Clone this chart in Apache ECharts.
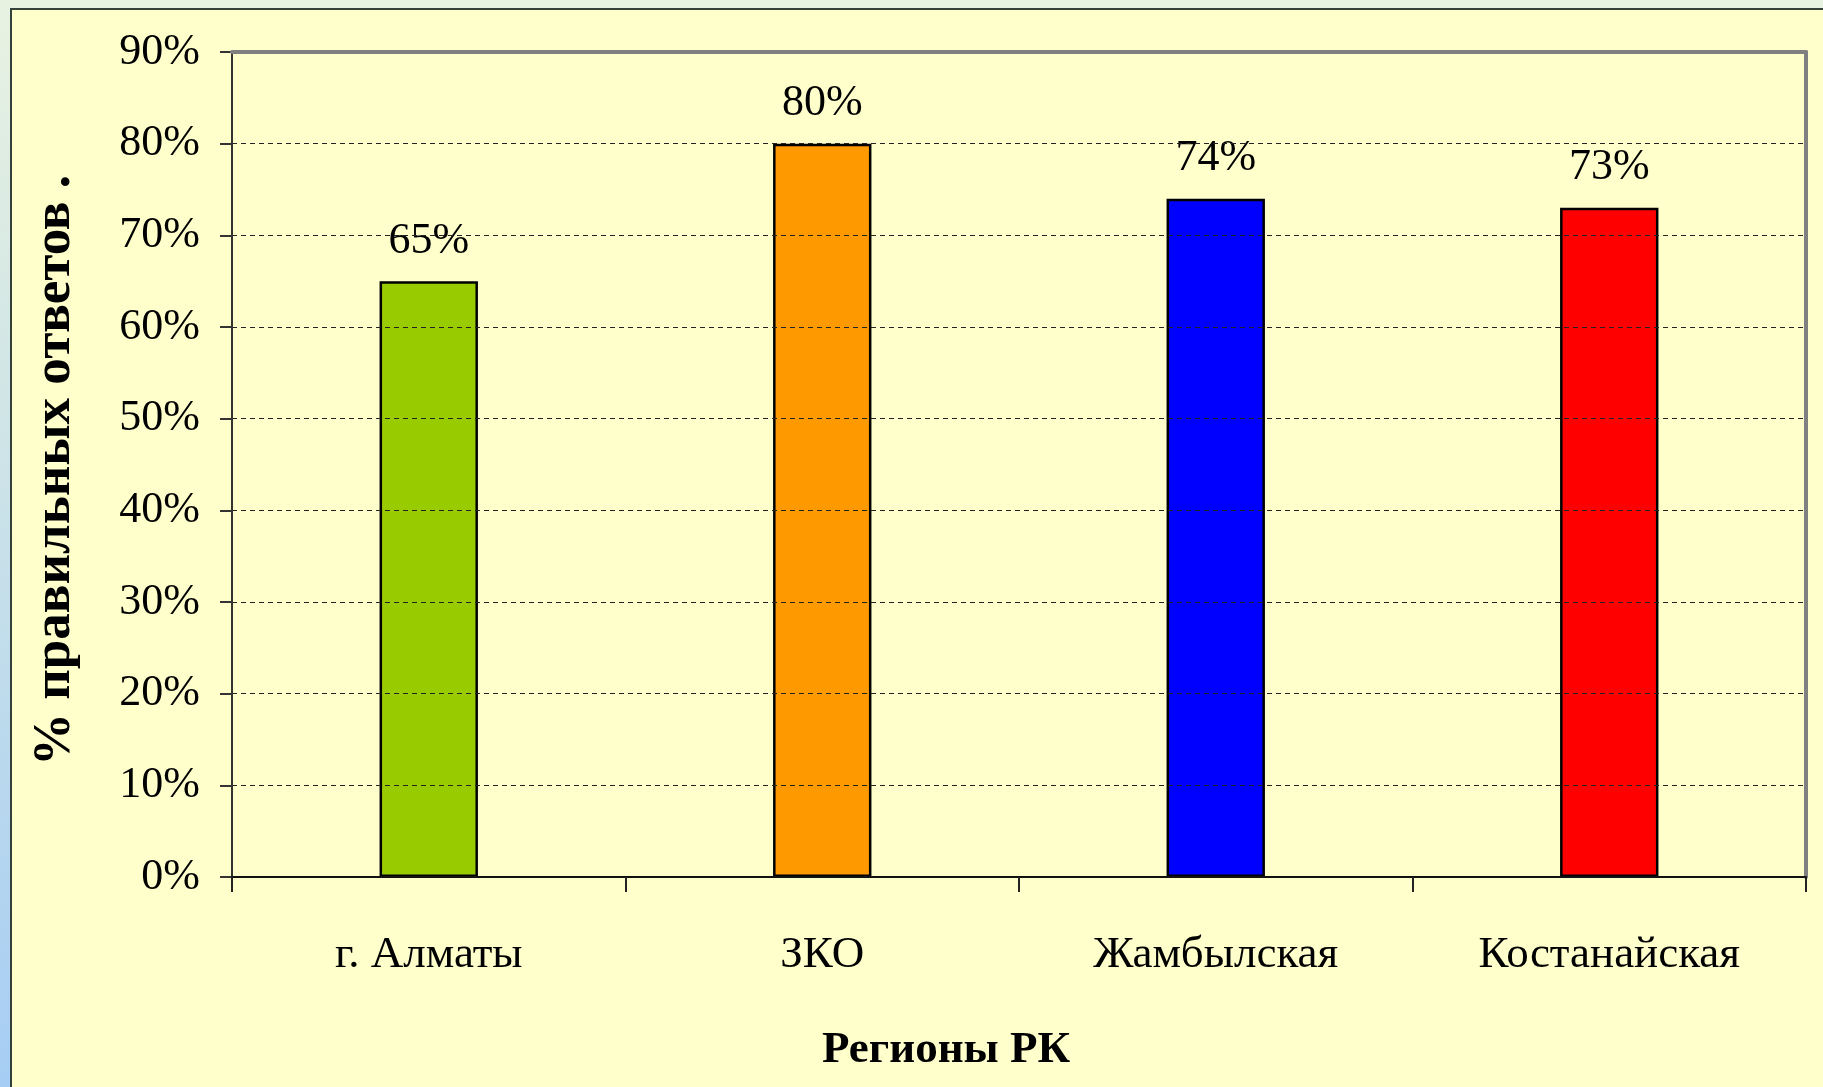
<!DOCTYPE html>
<html>
<head>
<meta charset="utf-8">
<script src="https://cdn.jsdelivr.net/npm/echarts@6/dist/echarts.min.js"></script>
<style>
  html, body { margin: 0; padding: 0; width: 1823px; height: 1087px; overflow: hidden; }
  body { background: linear-gradient(to bottom, #E8F2E1 0%, #D2E6E6 35%, #A6CDF4 100%); position: relative; }
  #frame { position: absolute; left: 10px; top: 8px; width: 1830px; height: 1100px; background: #FFFFCC; border: 2px solid #34403A; }
  #chart { position: absolute; left: 0; top: 0; width: 1823px; height: 1087px; }
</style>
</head>
<body>
<div id="frame"></div>
<div id="chart"></div>
<script>
const categories = ['г. Алматы', 'ЗКО', 'Жамбылская', 'Костанайская'];
const values = [65, 80, 74, 73];
const yTicks = { min: 0, max: 90, interval: 10 };
const barColors = ['#99CC00', '#FF9900', '#0000FF', '#FF0000'];
const xTitle = 'Регионы РК';
const yTitle = '% правильных ответов .';

const FONT = "'Liberation Serif', 'Times New Roman', serif";
const chart = echarts.init(document.getElementById('chart'), null, { renderer: 'canvas' });

chart.setOption({
  backgroundColor: 'transparent',
  animation: false,
  grid: { left: 232, top: 52, right: 17, bottom: 210, containLabel: false },
  xAxis: [{
    type: 'category',
    data: categories,
    position: 'bottom',
    boundaryGap: true,
    axisLine: { show: true, onZero: false, lineStyle: { color: '#111', width: 2 } },
    axisTick: { show: true, length: 15, inside: false, lineStyle: { color: '#222', width: 2 } },
    axisLabel: { margin: 56, color: '#000', fontFamily: FONT, fontSize: 45 },
    name: xTitle,
    nameLocation: 'middle',
    nameGap: 151,
    nameTextStyle: { color: '#000', fontFamily: FONT, fontSize: 45, fontWeight: 'bold', padding: [0, 146, 0, 0] },
    splitLine: { show: false },
    z: 5
  }, {
    type: 'category',
    data: categories,
    position: 'top',
    axisLine: { show: true, onZero: false, lineStyle: { color: '#808080', width: 4 } },
    axisTick: { show: false },
    axisLabel: { show: false },
    splitLine: { show: false },
    z: 5
  }],
  yAxis: [{
    type: 'value',
    min: yTicks.min,
    max: yTicks.max,
    interval: yTicks.interval,
    position: 'left',
    axisLine: { show: true, onZero: false, lineStyle: { color: '#333', width: 2 } },
    axisTick: { show: true, length: 12, inside: false, lineStyle: { color: '#333', width: 2 } },
    axisLabel: { margin: 32, color: '#000', fontFamily: FONT, fontSize: 44, formatter: '{value}%' },
    splitLine: { show: true, lineStyle: { color: '#222', width: 1, type: [5, 4] } },
    name: yTitle,
    nameLocation: 'middle',
    nameRotate: 90,
    nameGap: 150,
    nameTextStyle: { color: '#000', fontFamily: FONT, fontSize: 53, fontWeight: 'bold', padding: [0, 12, 0, 0] },
    z: 4
  }, {
    type: 'value',
    min: yTicks.min,
    max: yTicks.max,
    interval: yTicks.interval,
    position: 'right',
    axisLine: { show: true, onZero: false, lineStyle: { color: '#808080', width: 4 } },
    axisTick: { show: false },
    axisLabel: { show: false },
    splitLine: { show: false },
    z: 5
  }],
  series: [{
    type: 'bar',
    xAxisIndex: 0,
    yAxisIndex: 0,
    barWidth: '25%',
    data: values.map((v, i) => ({ value: v, itemStyle: { color: barColors[i] } })),
    itemStyle: { borderColor: '#000', borderWidth: 2.5 },
    label: {
      show: true,
      position: 'top',
      distance: 18,
      color: '#000',
      fontFamily: FONT,
      fontSize: 44,
      formatter: '{c}%'
    },
    z: 3
  }]
});
</script>
</body>
</html>
